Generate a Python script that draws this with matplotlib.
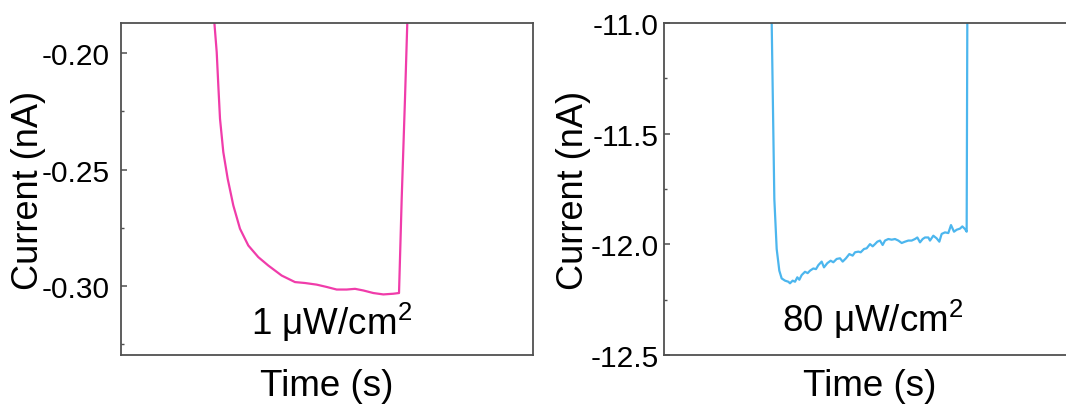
import matplotlib
matplotlib.use('Agg')
import matplotlib.pyplot as plt
from matplotlib.ticker import MultipleLocator, FormatStrFormatter

plt.rcParams['font.family'] = ['Liberation Sans', 'DejaVu Sans']
plt.rcParams['mathtext.fontset'] = 'custom'
plt.rcParams['mathtext.rm'] = 'Liberation Sans'

# Left panel: 1 uW/cm2 (time in arbitrary units, 0-100)
t_low = [22.6, 22.65, 23.23, 23.62, 24.03, 24.83, 25.90, 27.26, 28.88, 30.90,
         33.33, 35.75, 39.00, 42.23, 44.66, 47.50, 49.93, 52.35, 54.78, 56.80,
         58.81, 61.24, 63.67, 66.09, 67.48, 68.13, 68.93, 69.49, 69.54]
i_low = [-0.181, -0.1867, -0.1996, -0.2139, -0.2282, -0.2425, -0.2540, -0.2654,
         -0.2754, -0.2826, -0.2876, -0.2912, -0.2955, -0.2983, -0.2987, -0.2994,
         -0.3004, -0.3015, -0.3015, -0.3012, -0.3019, -0.3030, -0.3036, -0.3033,
         -0.3030, -0.2625, -0.2196, -0.187, -0.181]

# Right panel: 80 uW/cm2
t_high = [26.0, 26.14, 26.78, 27.35, 27.99, 28.56, 29.37, 30.18, 30.58, 31.23,
          31.80, 32.36, 32.85, 33.41, 34.22, 34.87, 35.44, 36.25, 36.89, 37.46,
          38.27, 38.83, 39.64, 40.45, 41.10, 41.91, 42.72, 43.37, 44.17, 44.98,
          45.79, 46.36, 47.17, 47.74, 48.54, 49.19, 50.00, 50.65, 51.21, 51.78,
          52.43, 53.07, 53.64, 54.45, 55.26, 56.07, 56.88, 57.69, 58.50, 59.30,
          60.11, 60.92, 61.49, 62.14, 62.78, 63.35, 64.16, 64.56, 65.37, 66.18,
          66.83, 67.39, 68.20, 69.01, 69.66, 70.39, 71.04, 71.84, 72.41, 73.06,
          73.46, 73.62, 73.64]
i_high = [-10.9, -11.0, -11.795, -12.021, -12.119, -12.154, -12.164, -12.169,
          -12.176, -12.164, -12.169, -12.149, -12.160, -12.139, -12.124, -12.130,
          -12.119, -12.109, -12.112, -12.094, -12.078, -12.104, -12.085, -12.074,
          -12.081, -12.066, -12.063, -12.078, -12.063, -12.044, -12.051, -12.036,
          -12.033, -12.036, -12.021, -12.018, -11.999, -12.009, -11.999, -11.988,
          -11.983, -12.003, -11.983, -11.976, -11.979, -11.976, -11.983, -11.994,
          -11.988, -11.983, -11.983, -11.976, -11.969, -11.991, -11.976, -11.969,
          -11.969, -11.983, -11.961, -11.973, -11.988, -11.953, -11.946, -11.949,
          -11.913, -11.943, -11.934, -11.929, -11.919, -11.931, -11.943, -11.0, -10.9]

W, H = 1066, 414
fig = plt.figure(figsize=(W / 100, H / 100), dpi=100)
fig.patch.set_facecolor('white')

ax1 = fig.add_axes([121 / W, 58 / H, 412 / W, 332 / H])
ax2 = fig.add_axes([664 / W, 58 / H, 412 / W, 332 / H])

ax1.plot(t_low, i_low, color='#F03CAA', lw=1.6, solid_joinstyle='round')
ax2.plot(t_high, i_high, color='#4CB6EE', lw=1.6, solid_joinstyle='round')

ax1.set_ylim(-0.3296, -0.1871)
ax2.set_ylim(-12.5, -11.0)
ax1.yaxis.set_major_locator(MultipleLocator(0.05))
ax1.yaxis.set_minor_locator(MultipleLocator(0.025))
ax2.yaxis.set_major_locator(MultipleLocator(0.5))
ax2.yaxis.set_minor_locator(MultipleLocator(0.25))
ax1.yaxis.set_major_formatter(FormatStrFormatter('%.2f'))
ax2.yaxis.set_major_formatter(FormatStrFormatter('%.1f'))

for ax, pad, lx in [(ax1, 8.0, -0.182), (ax2, 4.0, -0.178)]:
    ax.set_xlim(0, 100)
    ax.set_xticks([])
    for s in ax.spines.values():
        s.set_color('#505050')
        s.set_linewidth(1.3)
    ax.tick_params(axis='y', which='major', direction='in', length=4, width=1.1,
                   color='#505050', labelsize=21.5, pad=pad)
    ax.tick_params(axis='y', which='minor', direction='in', length=2.5, width=1.0,
                   color='#505050')
    ax.set_ylabel('Current (nA)', fontsize=26)
    ax.yaxis.set_label_coords(lx, 0.5)
    ax.set_xlabel('Time (s)', fontsize=26.5)
    ax.xaxis.set_label_coords(0.5, -0.04)

ax1.text(0.512, 0.063, '1 μW/cm$^2$', transform=ax1.transAxes, fontsize=26.5,
         ha='center', va='baseline')
ax2.text(0.507, 0.073, '80 μW/cm$^2$', transform=ax2.transAxes, fontsize=26.5,
         ha='center', va='baseline')

fig.savefig('out.png', dpi=100, facecolor='white')
